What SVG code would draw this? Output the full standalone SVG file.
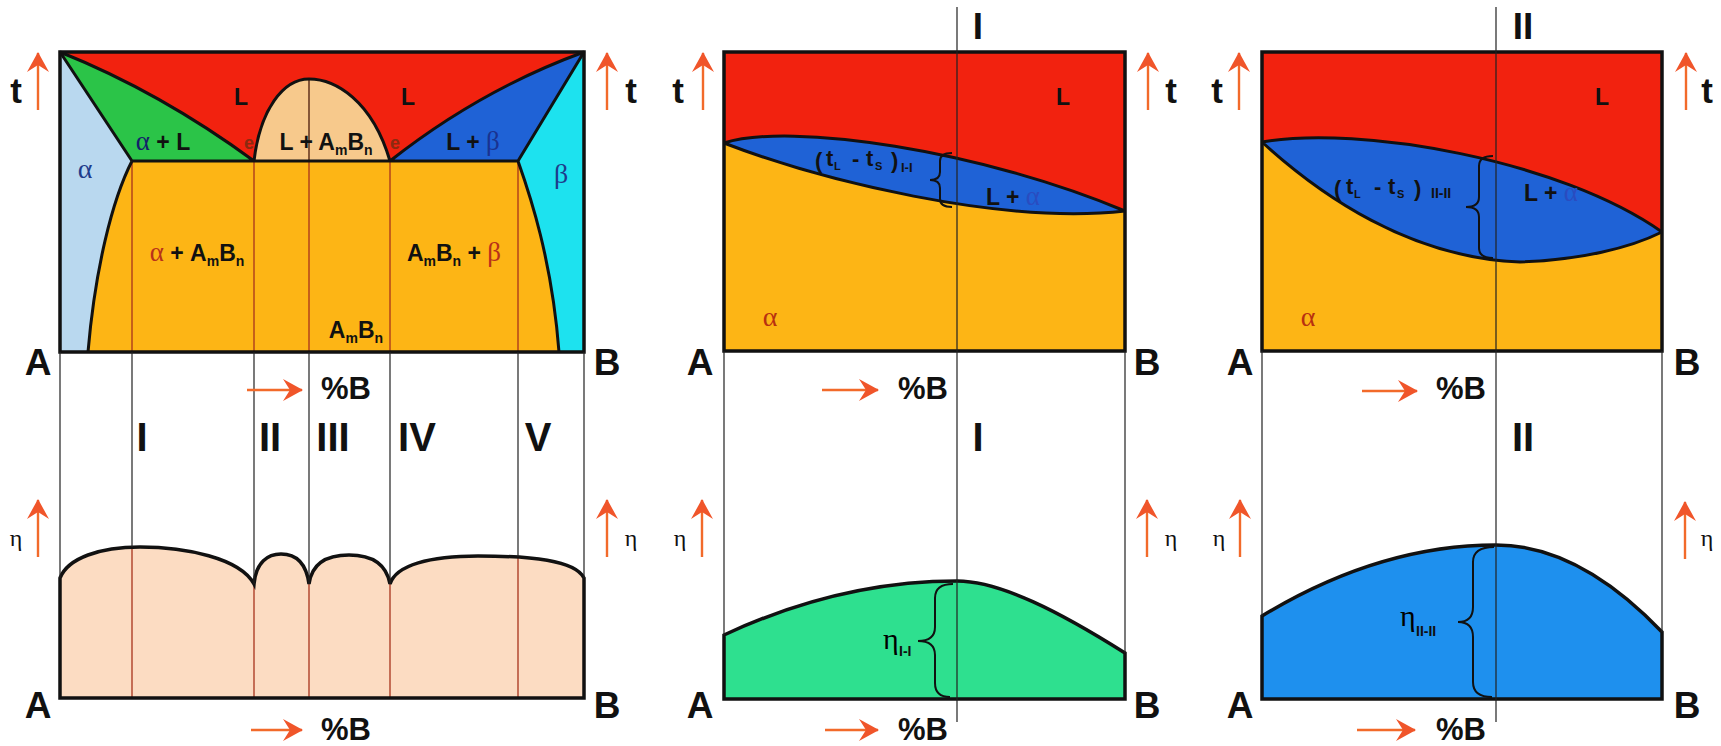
<svg xmlns="http://www.w3.org/2000/svg" width="1721" height="746" viewBox="0 0 1721 746">
<defs>
<style>
.sans{font-family:"Liberation Sans",Arial,sans-serif;font-weight:bold;fill:#111}
.ser{font-family:"Liberation Serif","Times New Roman",serif}
.bd{fill:none;stroke:#111;stroke-width:3;stroke-linejoin:round}
.frame{fill:none;stroke:#111;stroke-width:3.5}
.gl{stroke:#222;stroke-width:1.2;fill:none}
.rl{stroke:#a8341c;stroke-width:1.3;fill:none}
.arr{stroke:#f26a2a;stroke-width:2.4;fill:none;marker-end:url(#ah)}
.brace{fill:none;stroke:#111;stroke-width:2}
.red{fill:#f2220f}.org{fill:#fdb515}.lens{fill:#1f62d6}
</style>
<marker id="ah" viewBox="-20 -12 22 24" refX="0" refY="0" markerWidth="22" markerHeight="24" markerUnits="userSpaceOnUse" orient="auto">
<path d="M1,0 L-19,-11 L-12,0 L-19,11 Z" fill="#f0552a"/>
</marker>
</defs>
<rect width="1721" height="746" fill="#fff"/>

<!-- Panel 1 phase diagram -->
<g id="panel1-top">
<rect x="60" y="52" width="524" height="300" class="red"/>
<path d="M60,52 L132,161 C112,200 95,270 88,352 L60,352 Z" fill="#b9d8ef"/>
<path d="M584,52 L518,161 C530,195 552,260 559,352 L584,352 Z" fill="#1de2ef"/>
<path d="M60,52 Q160,92 254,161 L132,161 Z" fill="#2bc448"/>
<path d="M584,52 Q480,90 390,161 L518,161 Z" fill="#1f62d6"/>
<path d="M254,161 C260,110 283,79 309,79 C335,79 372,100 390,161 Z" fill="#f7c98c"/>
<path d="M132,161 L518,161 C530,195 552,260 559,352 L88,352 C95,270 112,200 132,161 Z" class="org"/>
<path d="M132,161V352M254,161V352M309,161V352M390,161V352M518,161V352" class="rl"/>
<path d="M309,79V161" stroke="#4a1a0a" stroke-width="1.3"/>
<path d="M60,52 Q160,92 254,161 M584,52 Q480,90 390,161 M60,52 L132,161 M584,52 L518,161 M132,161 H518 M132,161 C112,200 95,270 88,352 M518,161 C530,195 552,260 559,352 M254,161 C260,110 283,79 309,79 C335,79 372,100 390,161" class="bd"/>
<rect x="60" y="52" width="524" height="300" class="frame"/>
<text class="sans" font-size="23" x="241" y="105" text-anchor="middle">L</text>
<text class="sans" font-size="23" x="408" y="105" text-anchor="middle">L</text>
<text class="sans" font-size="23" x="163" y="150" text-anchor="middle"><tspan class="ser" font-size="27" font-weight="normal" style="fill:#14206a">α</tspan> + L</text>
<text class="sans" font-size="18" x="249" y="149" text-anchor="middle" style="fill:#8b2a10">e</text>
<text class="sans" font-size="18" x="395" y="149" text-anchor="middle" style="fill:#8b2a10">e</text>
<text class="sans" font-size="23" x="326" y="150" text-anchor="middle">L + A<tspan font-size="14" dy="5">m</tspan><tspan dy="-5">B</tspan><tspan font-size="14" dy="5">n</tspan></text>
<text class="sans" font-size="23" x="473" y="150" text-anchor="middle">L + <tspan class="ser" font-size="27" font-weight="normal" style="fill:#1a3290">β</tspan></text>
<text class="ser" font-size="28" x="85" y="178" text-anchor="middle" fill="#1e3c8c">α</text>
<text class="ser" font-size="28" x="561" y="183" text-anchor="middle" fill="#1e3c8c">β</text>
<text class="sans" font-size="23" x="197" y="261" text-anchor="middle"><tspan class="ser" font-size="27" font-weight="normal" style="fill:#b8321a">α</tspan> + A<tspan font-size="14" dy="5">m</tspan><tspan dy="-5">B</tspan><tspan font-size="14" dy="5">n</tspan></text>
<text class="sans" font-size="23" x="454" y="261" text-anchor="middle">A<tspan font-size="14" dy="5">m</tspan><tspan dy="-5">B</tspan><tspan font-size="14" dy="5">n</tspan><tspan dy="-5"> + </tspan><tspan class="ser" font-size="27" font-weight="normal" style="fill:#b8321a">β</tspan></text>
<text class="sans" font-size="23" x="356" y="338" text-anchor="middle">A<tspan font-size="14" dy="5">m</tspan><tspan dy="-5">B</tspan><tspan font-size="14" dy="5">n</tspan></text>
</g>

<g id="panel1-bottom">
<path d="M60,698 L60,578 C68,558 100,547 140,547 C185,547 240,558 254,584 C256,562 268,554 281,554 C295,554 306,562 309,584 C312,562 328,555 349,555 C370,555 386,562 390,584 C396,565 430,556 478,556 C530,556 575,560 584,578 L584,698 Z" fill="#fcdcc2"/>
<path d="M132,547V698M254,584V698M309,584V698M390,584V698M518,557V698" class="rl"/>
<path d="M60,698 L60,578 C68,558 100,547 140,547 C185,547 240,558 254,584 C256,562 268,554 281,554 C295,554 306,562 309,584 C312,562 328,555 349,555 C370,555 386,562 390,584 C396,565 430,556 478,556 C530,556 575,560 584,578 L584,698 Z" class="frame"/>
</g>

<!-- Panel 2 -->
<g id="panel2-top">
<rect x="724" y="52" width="401" height="299" class="red"/>
<path d="M724,143 C820,180 1000,225 1125,211 L1125,351 L724,351 Z" class="org"/>
<path d="M724,143 C790,122 980,150 1125,211 C1000,225 820,180 724,143 Z" class="lens"/>
<path d="M724,143 C790,122 980,150 1125,211 M724,143 C820,180 1000,225 1125,211" class="bd"/>
<rect x="724" y="52" width="401" height="299" class="frame"/>
<text class="sans" font-size="23" x="1063" y="105" text-anchor="middle">L</text>
<text class="sans" font-size="22"><tspan x="815" y="168">(</tspan><tspan x="826" y="166">t</tspan><tspan x="834" y="170" font-size="11">L</tspan><tspan x="852" y="166">-</tspan><tspan x="866" y="166">t</tspan><tspan x="875" y="170" font-size="11">S</tspan><tspan x="891" y="168">)</tspan><tspan x="901" y="172" font-size="13">I-I</tspan></text>
<text class="sans" font-size="23" x="1013" y="205" text-anchor="middle">L + <tspan class="ser" font-size="27" font-weight="normal" style="fill:#2a4cc0">α</tspan></text>
<text class="ser" font-size="28" x="770" y="326" text-anchor="middle" fill="#b83010">α</text>
<path d="M952,153 Q940,153 940,161 L940,172 Q940,180 930,180 Q940,180 940,188 L940,199 Q940,207 952,207" class="brace"/>
</g>

<g id="panel2-bottom">
<path d="M724,699 L724,635 Q840,581 957,581 C1000,581 1060,612 1125,653 L1125,699 Z" fill="#2ee08f"/>
<path d="M724,699 L724,635 Q840,581 957,581 C1000,581 1060,612 1125,653 L1125,699 Z" class="frame"/>
<path d="M953,584 Q935,584 935,598 L935,627 Q935,641 918,641 Q935,641 935,655 L935,683 Q935,697 950,697" class="brace"/>
<text class="ser" font-size="30" x="883" y="649">η</text>
<text class="sans" font-size="14" x="899" y="656">I-I</text>
</g>

<!-- Panel 3 -->
<g id="panel3-top">
<rect x="1262" y="52" width="400" height="299" class="red"/>
<path d="M1262,142 C1320,195 1410,258 1520,262 C1580,260 1630,248 1662,232 L1662,351 L1262,351 Z" class="org"/>
<path d="M1262,142 C1360,125 1560,160 1662,232 C1630,248 1580,260 1520,262 C1410,258 1320,195 1262,142 Z" class="lens"/>
<path d="M1262,142 C1360,125 1560,160 1662,232 M1262,142 C1320,195 1410,258 1520,262 C1580,260 1630,248 1662,232" class="bd"/>
<rect x="1262" y="52" width="400" height="299" class="frame"/>
<text class="sans" font-size="23" x="1602" y="105" text-anchor="middle">L</text>
<text class="sans" font-size="22"><tspan x="1334" y="196">(</tspan><tspan x="1346" y="194">t</tspan><tspan x="1354" y="198" font-size="11">L</tspan><tspan x="1374" y="194">-</tspan><tspan x="1388" y="194">t</tspan><tspan x="1397" y="198" font-size="11">S</tspan><tspan x="1414" y="196">)</tspan><tspan x="1431" y="198" font-size="14">II-II</tspan></text>
<text class="sans" font-size="23" x="1551" y="201" text-anchor="middle">L + <tspan class="ser" font-size="27" font-weight="normal" style="fill:#2a4cc0">α</tspan></text>
<text class="ser" font-size="28" x="1308" y="326" text-anchor="middle" fill="#b83010">α</text>
<path d="M1493,156 Q1479,156 1479,166 L1479,197 Q1479,207 1466,207 Q1479,207 1479,217 L1479,248 Q1479,258 1493,258" class="brace"/>
</g>

<g id="panel3-bottom">
<path d="M1262,699 L1262,616 Q1379,545 1496,545 Q1579,545 1662,632 L1662,699 Z" fill="#1e90ee"/>
<path d="M1262,699 L1262,616 Q1379,545 1496,545 Q1579,545 1662,632 L1662,699 Z" class="frame"/>
<path d="M1494,547 Q1473,547 1473,562 L1473,607 Q1473,622 1458,622 Q1473,622 1473,637 L1473,682 Q1473,697 1492,697" class="brace"/>
<text class="ser" font-size="30" x="1400" y="626">η</text>
<text class="sans" font-size="14" x="1416" y="636">II-II</text>
</g>

<!-- guide lines connecting upper and lower panels -->
<g id="connectors">
<path d="M60,352V578M584,352V578M132,352V547M254,352V584M309,352V584M390,352V584M518,352V557" class="gl"/>
<path d="M724,351V635M1125,351V653M957,7V722" class="gl"/>
<path d="M1262,351V616M1662,351V632M1496,7V722" class="gl"/>
</g>

<!-- axes labels -->
<g id="axes">
<path d="M38,110V53" class="arr"/><path d="M607,110V53" class="arr"/><path d="M703,110V53" class="arr"/>
<path d="M1148,110V53" class="arr"/><path d="M1239,110V53" class="arr"/><path d="M1686,110V53" class="arr"/>
<path d="M38,557V500" class="arr"/><path d="M607,557V500" class="arr"/><path d="M702,557V500" class="arr"/>
<path d="M1147,557V500" class="arr"/><path d="M1240,557V500" class="arr"/><path d="M1685,559V502" class="arr"/>
<path d="M247,390H302" class="arr"/><path d="M251,730H302" class="arr"/><path d="M822,390H878" class="arr"/>
<path d="M825,730H878" class="arr"/><path d="M1362,391H1417" class="arr"/><path d="M1357,730H1415" class="arr"/>
<g class="sans" font-size="35" text-anchor="middle">
<text x="16" y="103">t</text><text x="631" y="103">t</text><text x="678" y="103">t</text><text x="1171" y="103">t</text><text x="1217" y="103">t</text><text x="1707" y="103">t</text>
</g>
<g class="ser" font-size="24" text-anchor="middle" fill="#111">
<text x="16" y="546">η</text><text x="631" y="546">η</text><text x="680" y="546">η</text><text x="1171" y="546">η</text><text x="1219" y="546">η</text><text x="1707" y="546">η</text>
</g>
<g class="sans" font-size="37" text-anchor="middle">
<text x="38" y="375">A</text><text x="607" y="375">B</text><text x="700" y="375">A</text><text x="1147" y="375">B</text><text x="1240" y="375">A</text><text x="1687" y="375">B</text>
<text x="38" y="718">A</text><text x="607" y="718">B</text><text x="700" y="718">A</text><text x="1147" y="718">B</text><text x="1240" y="718">A</text><text x="1687" y="718">B</text>
</g>
<g class="sans" font-size="31">
<text x="321" y="399">%B</text><text x="898" y="399">%B</text><text x="1436" y="399">%B</text>
<text x="321" y="740">%B</text><text x="898" y="740">%B</text><text x="1436" y="740">%B</text>
</g>
<g class="sans" font-size="40" text-anchor="middle">
<text x="142" y="451">I</text><text x="270" y="451">II</text><text x="333" y="451">III</text><text x="417" y="451">IV</text><text x="538" y="451">V</text>
<text x="978" y="451">I</text><text x="1523" y="451">II</text>
<text x="978" y="39" font-size="37">I</text><text x="1523" y="39" font-size="37">II</text>
</g>
</g>
</svg>
